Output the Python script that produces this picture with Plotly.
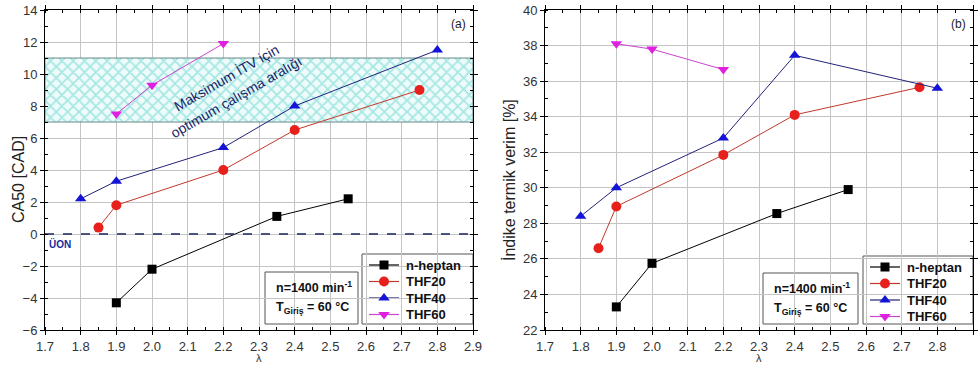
import plotly.graph_objects as go

# ---- data ----
hep_x = [1.9, 2.0, 2.35, 2.55]
hep_ca50 = [-4.3, -2.2, 1.1, 2.2]
hep_eff = [23.3, 25.75, 28.55, 29.9]

thf20_x = [1.85, 1.9, 2.2, 2.4, 2.75]
thf20_ca50 = [0.4, 1.8, 4.0, 6.5, 9.0]
thf20_eff = [26.6, 28.95, 31.85, 34.1, 35.65]

thf40_x = [1.8, 1.9, 2.2, 2.4, 2.8]
thf40_ca50 = [2.2, 3.3, 5.4, 8.0, 11.5]
thf40_eff = [28.4, 30.0, 32.8, 37.45, 35.6]

thf60_x = [1.9, 2.0, 2.2]
thf60_ca50 = [7.5, 9.3, 11.9]
thf60_eff = [38.1, 37.8, 36.65]

band_low, band_high = 7, 11
x_range = [1.7, 2.9]
y1_range = [-6, 14]
y2_range = [22, 40]

series = [
    ("n-heptan", hep_x, hep_ca50, hep_eff, "black", "black", "square", 9),
    ("THF20", thf20_x, thf20_ca50, thf20_eff, "#c0392b", "#e8201c", "circle", 10),
    ("THF40", thf40_x, thf40_ca50, thf40_eff, "#22227a", "#1414d8", "triangle-up", 10),
    ("THF60", thf60_x, thf60_ca50, thf60_eff, "#cc44cc", "#e020e0", "triangle-down", 10),
]

FONT = "Liberation Sans, Arial, sans-serif"
W, H = 979, 368
ML, MR, MT, MB = 45, 6, 10, 38
fig = go.Figure()

# hatched band
fig.add_trace(go.Scatter(
    x=[x_range[0], x_range[1], x_range[1], x_range[0], x_range[0]],
    y=[band_low, band_low, band_high, band_high, band_low],
    fill="toself", mode="lines",
    line=dict(color="#6a8a8a", width=1),
    fillcolor="rgba(0,0,0,0)",
    fillpattern=dict(shape="x", fgcolor="#5cd3cb", bgcolor="#eefbfa", size=8, solidity=0.4),
    showlegend=False, hoverinfo="skip", xaxis="x", yaxis="y"))

for name, xs, ca, eff, lc, mc, sym, ms in series:
    for yv, xa, ya in [(ca, "x", "y"), (eff, "x2", "y2")]:
        fig.add_trace(go.Scatter(
            x=xs, y=yv, mode="lines+markers", name=name,
            line=dict(color=lc, width=1),
            marker=dict(color=mc, symbol=sym, size=ms, line=dict(width=0)),
            xaxis=xa, yaxis=ya, showlegend=False))

# dashed zero line
fig.add_trace(go.Scatter(x=x_range, y=[0, 0], mode="lines",
                         line=dict(color="#1a2360", width=1.6, dash="dash"),
                         showlegend=False, hoverinfo="skip", xaxis="x", yaxis="y"))

L = [0.0, (473 - ML) / (W - ML - MR)]
R = [(545 - ML) / (W - ML - MR), 1.0]

axis_common = dict(
    showline=True, linecolor="black", linewidth=1, mirror="ticks",
    showgrid=True, gridcolor="#c4c4c4", gridwidth=1,
    ticks="outside", ticklen=4, tickcolor="black",
    tickfont=dict(family=FONT, size=13, color="#333"),
    zeroline=False, automargin=False,
)

fig.update_layout(
    width=W, height=H,
    margin=dict(l=ML, r=MR, t=MT, b=MB, autoexpand=False),
    paper_bgcolor="white", plot_bgcolor="white",
    showlegend=False,
    font=dict(family=FONT),
    xaxis=dict(domain=L, range=x_range, dtick=0.1, tick0=1.7, tickformat=".1f",
               minor=dict(ticks="inside", ticklen=3, dtick=0.05, tickcolor="black", showgrid=False),
               anchor="y", **axis_common),
    yaxis=dict(domain=[0, 1], range=y1_range, dtick=2, tick0=0,
               minor=dict(ticks="inside", ticklen=3, dtick=1, tickcolor="black", showgrid=False),
               anchor="x", **axis_common),
    xaxis2=dict(domain=R, range=x_range, dtick=0.1, tick0=1.7, tickformat=".1f",
                minor=dict(ticks="inside", ticklen=3, dtick=0.05, tickcolor="black", showgrid=False),
                anchor="y2", **axis_common),
    yaxis2=dict(domain=[0, 1], range=y2_range, dtick=2, tick0=0,
                minor=dict(ticks="inside", ticklen=3, dtick=1, tickcolor="black", showgrid=False),
                anchor="x2", **axis_common),
)

def px(xp): return (xp - ML) / (W - ML - MR)
def py(yp): return 1 - (yp - MT) / (H - MT - MB)

anns = []
anns.append(dict(text="CA50 [CAD]", x=px(18), y=py(180), xref="paper", yref="paper", textangle=-90,
                 showarrow=False, font=dict(size=16, color="#222"), xanchor="center", yanchor="middle"))
anns.append(dict(text="İndike termik verim [%]", x=px(509), y=py(180), xref="paper", yref="paper", textangle=-90,
                 showarrow=False, font=dict(size=16, color="#222"), xanchor="center", yanchor="middle"))
for xa in ["x", "x2"]:
    anns.append(dict(text="λ", x=2.3, y=py(358), xref=xa, yref="paper", showarrow=False,
                     font=dict(size=11, color="#333"), yanchor="middle"))
anns.append(dict(text="(a)", x=2.86, y=13.1, xref="x", yref="y", showarrow=False,
                 font=dict(size=12, color="#222")))
anns.append(dict(text="(b)", x=2.86, y=39.2, xref="x2", yref="y2", showarrow=False,
                 font=dict(size=12, color="#222")))
anns.append(dict(text="<b>ÜON</b>", x=1.705, y=-0.6, xref="x", yref="y", showarrow=False,
                 xanchor="left", font=dict(size=10, color="#1a2aa0")))
anns.append(dict(text="Maksimum İTV için", x=2.207, y=9.8, xref="x", yref="y", showarrow=False,
                 textangle=-30, font=dict(size=14, color="#1a1f6a")))
anns.append(dict(text="optimum çalışma aralığı", x=2.236, y=8.55, xref="x", yref="y", showarrow=False,
                 textangle=-30, font=dict(size=14, color="#1a1f6a")))

def to_data(xp, yp, dom, yr):
    x0p = ML + dom[0] * (W - ML - MR)
    x1p = ML + dom[1] * (W - ML - MR)
    xd = x_range[0] + (xp - x0p) / (x1p - x0p) * (x_range[1] - x_range[0])
    yd = yr[1] - (yp - MT) / (H - MT - MB) * (yr[1] - yr[0])
    return xd, yd

shapes = []
panels = [("x", "y", L, y1_range, 265, 358, 272, 324, 362, 473, 254, 324),
          ("x2", "y2", R, y2_range, 763, 858, 273, 324, 863, 973, 256, 324)]

for xa, ya, dom, yr, bx0, bx1, by0, by1, lx0, lx1, ly0, ly1 in panels:
    shapes.append(dict(type="rect", xref="paper", yref="paper", x0=px(bx0), x1=px(bx1),
                       y0=py(by1), y1=py(by0), line=dict(color="#555", width=1), fillcolor="white", layer="between"))
    shapes.append(dict(type="rect", xref="paper", yref="paper", x0=px(lx0), x1=px(lx1),
                       y0=py(ly1), y1=py(ly0), line=dict(color="#555", width=1), fillcolor="white", layer="between"))
    anns.append(dict(text="<b>n=1400 min<sup>-1</sup></b>", x=px(bx0 + 9), y=py(by0 + 15), xref="paper",
                     yref="paper", xanchor="left", yanchor="middle", showarrow=False,
                     font=dict(size=12.5, color="#111")))
    anns.append(dict(text="<b>T<sub>Giriş</sub> = 60 °C</b>", x=px(bx0 + 9),
                     y=py(by0 + 36), xref="paper", yref="paper", xanchor="left", yanchor="middle",
                     showarrow=False, font=dict(size=12.5, color="#111")))
    for i, (name, xs, ca, eff, lc, mc, sym, ms) in enumerate(series):
        yy = ly0 + 11 + i * 16.5
        shapes.append(dict(type="line", xref="paper", yref="paper", x0=px(lx0 + 7), x1=px(lx0 + 37),
                           y0=py(yy), y1=py(yy), line=dict(color=lc, width=1.2), layer="between"))
        anns.append(dict(text=f"<b>{name}</b>", x=px(lx0 + 42), y=py(yy), xref="paper", yref="paper",
                         xanchor="left", yanchor="middle", showarrow=False,
                         font=dict(size=13, color="#111")))
        mx, my = to_data(lx0 + 22, yy, dom, yr)
        fig.add_trace(go.Scatter(x=[mx], y=[my], mode="markers", cliponaxis=False,
                                 marker=dict(color=mc, symbol=sym, size=ms, line=dict(width=0)),
                                 xaxis=xa, yaxis=ya, showlegend=False, hoverinfo="skip"))

fig.update_layout(annotations=anns, shapes=shapes)
fig.write_html("out.html", config={"displayModeBar": False},
               post_script="document.body.style.margin='0';document.body.style.overflow='hidden';")
